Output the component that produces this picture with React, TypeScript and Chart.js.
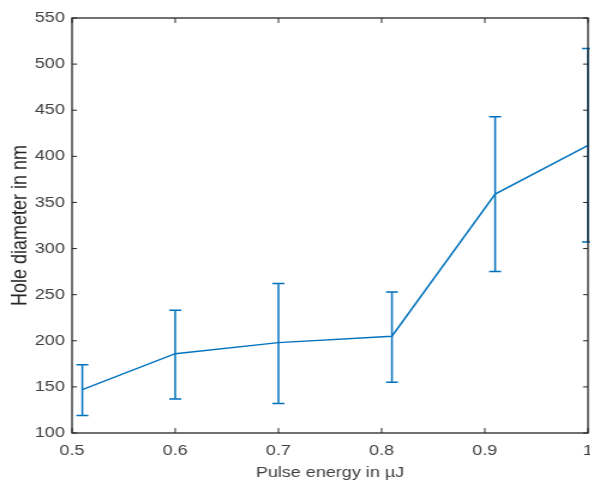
import React, { useEffect, useRef } from "react";
import { Chart, registerables } from "chart.js";

Chart.register(...registerables);

// Measurements: pulse energy (µJ) vs. mean hole diameter (nm) with min/max spread
const energy = [0.51, 0.6, 0.7, 0.81, 0.91, 1.0];
const diameter = [147, 186, 198, 205, 359, 412];
const diameterLow = [119, 137, 132, 155, 275, 307];
const diameterHigh = [174, 233, 262, 253, 443, 517];

const xTicks = [0.5, 0.6, 0.7, 0.8, 0.9, 1];
const yTicks = [100, 150, 200, 250, 300, 350, 400, 450, 500, 550];

const xTitle = "Pulse energy in µJ";
const yTitle = "Hole diameter in nm";

const LINE_BLUE = "#0072BD";
const AXIS_COLOR = "#262626";
const LABEL_COLOR = "#404040";
const FONT_FAMILY = "'Liberation Sans', Arial, Helvetica, sans-serif";

// The drawing is laid out in a narrower canvas and widened with CSS
const STRETCH = 1.2;
const OUT_W = 590;
const OUT_H = 487;
const W = Math.round(OUT_W / STRETCH);
const H = OUT_H;

const errorBars = {
  id: "errorBars",
  afterDatasetsDraw(chart: any) {
    const { ctx, scales } = chart;
    const xs = scales.x;
    const ys = scales.y;
    const cap = 5;
    ctx.save();
    ctx.strokeStyle = LINE_BLUE;
    ctx.lineWidth = 1.5;
    energy.forEach((e, i) => {
      const px = xs.getPixelForValue(e);
      const lo = ys.getPixelForValue(diameterLow[i]);
      const hi = ys.getPixelForValue(diameterHigh[i]);
      ctx.beginPath();
      ctx.moveTo(px, lo);
      ctx.lineTo(px, hi);
      ctx.moveTo(px - cap, lo);
      ctx.lineTo(px + cap, lo);
      ctx.moveTo(px - cap, hi);
      ctx.lineTo(px + cap, hi);
      ctx.stroke();
    });
    ctx.restore();
  },
};

const boxFrame = {
  id: "boxFrame",
  afterDraw(chart: any) {
    const { ctx, chartArea, scales } = chart;
    const { left, right, top, bottom } = chartArea;
    const tickV = 5;
    const tickH = 5 / STRETCH;
    ctx.save();
    ctx.strokeStyle = AXIS_COLOR;
    ctx.lineWidth = 1.3;
    ctx.strokeRect(left, top, right - left, bottom - top);
    ctx.lineWidth = 1;
    ctx.beginPath();
    scales.x.ticks.forEach((t: any) => {
      const px = scales.x.getPixelForValue(t.value);
      ctx.moveTo(px, bottom);
      ctx.lineTo(px, bottom - tickV);
      ctx.moveTo(px, top);
      ctx.lineTo(px, top + tickV);
    });
    scales.y.ticks.forEach((t: any) => {
      const py = scales.y.getPixelForValue(t.value);
      ctx.moveTo(left, py);
      ctx.lineTo(left + tickH, py);
      ctx.moveTo(right, py);
      ctx.lineTo(right - tickH, py);
    });
    ctx.stroke();
    ctx.restore();
  },
};

export default function App() {
  const canvasRef = useRef<HTMLCanvasElement | null>(null);

  useEffect(() => {
    if (!canvasRef.current) return;
    const chart = new Chart(canvasRef.current, {
      type: "line",
      data: {
        datasets: [
          {
            data: energy.map((e, i) => ({ x: e, y: diameter[i] })),
            borderColor: LINE_BLUE,
            borderWidth: 1.5,
            pointRadius: 0,
            tension: 0,
            fill: false,
          },
        ],
      },
      options: {
        animation: false,
        responsive: false,
        devicePixelRatio: 1,
        layout: { padding: { top: 18, right: W - 490, bottom: 0, left: 0 } },
        plugins: {
          legend: { display: false },
          tooltip: { enabled: false },
        },
        scales: {
          x: {
            type: "linear",
            min: 0.5,
            max: 1,
            afterBuildTicks: (s: any) => {
              s.ticks = xTicks.map((v) => ({ value: v }));
            },
            afterFit: (s: any) => {
              s.height = 54;
              s.paddingLeft = 0;
              s.paddingRight = 0;
            },
            grid: { display: false, drawTicks: false },
            border: { display: false },
            ticks: {
              padding: 9,
              color: LABEL_COLOR,
              font: { family: FONT_FAMILY, size: 15 },
              maxRotation: 0,
              callback: (v: any) => String(Number(Number(v).toFixed(2))),
            },
            title: {
              display: true,
              text: xTitle,
              color: LABEL_COLOR,
              font: { family: FONT_FAMILY, size: 15 },
              padding: { top: 0, bottom: 5 },
            },
          },
          y: {
            type: "linear",
            min: 100,
            max: 550,
            afterBuildTicks: (s: any) => {
              s.ticks = yTicks.map((v) => ({ value: v }));
            },
            afterFit: (s: any) => {
              s.width = 60;
              s.paddingTop = 0;
              s.paddingBottom = 0;
            },
            grid: { display: false, drawTicks: false },
            border: { display: false },
            ticks: {
              padding: 6,
              color: LABEL_COLOR,
              font: { family: FONT_FAMILY, size: 15 },
            },
            title: {
              display: true,
              text: yTitle,
              color: "#262626",
              font: { family: FONT_FAMILY, size: 18 },
              padding: { top: 6, bottom: 0 },
            },
          },
        },
      },
      plugins: [errorBars, boxFrame],
    });
    return () => chart.destroy();
  }, []);

  return (
    <div
      style={{
        position: "fixed",
        left: 0,
        top: 0,
        width: OUT_W,
        height: OUT_H,
        overflow: "hidden",
        background: "#ffffff",
      }}
    >
      <div
        style={{
          width: W,
          height: H,
          transform: `scaleX(${STRETCH})`,
          transformOrigin: "0 0",
        }}
      >
        <canvas ref={canvasRef} width={W} height={H} style={{ display: "block" }} />
      </div>
    </div>
  );
}
